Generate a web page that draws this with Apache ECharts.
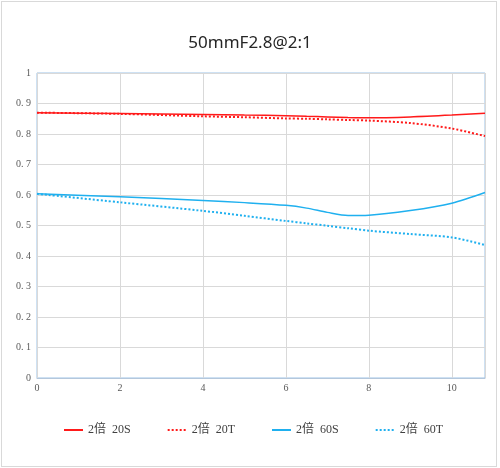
<!DOCTYPE html>
<html>
<head>
<meta charset="utf-8">
<script src="https://cdn.jsdelivr.net/npm/echarts@6/dist/echarts.min.js"></script>
<style>
  html, body { margin: 0; padding: 0; background: #fff; }
  #main { width: 500px; height: 468px; }
  .frame {
    position: absolute; left: 1px; top: 1px; width: 494px; height: 464px;
    border: 1px solid #d9d9d9; pointer-events: none;
  }
</style>
</head>
<body>
<div id="main"></div>
<div class="frame"></div>
<script>
// x positions shared by all curves
const xs = [0, 2, 4, 5, 6, 6.5, 7, 7.5, 8, 9, 10, 10.8]
const s20S = [0.870, 0.867, 0.864, 0.862, 0.860, 0.858, 0.856, 0.854, 0.853, 0.856, 0.862, 0.868]
const t20T = [0.870, 0.866, 0.858, 0.855, 0.851, 0.850, 0.848, 0.846, 0.844, 0.836, 0.818, 0.793]
const s60S = [0.604, 0.594, 0.582, 0.575, 0.566, 0.557, 0.543, 0.533, 0.534, 0.549, 0.573, 0.608]
const t60T = [0.604, 0.576, 0.548, 0.532, 0.515, 0.507, 0.499, 0.491, 0.483, 0.472, 0.461, 0.436]
const names = ['2倍  20S', '2倍  20T', '2倍  60S', '2倍  60T']

const red = '#ff1a1a'
const blue = '#1fb0ef'

function pairs(ys) {
  return xs.map((x, i) => [x, ys[i]])
}

function makeSeries(name, ys, color, dotted) {
  return {
    name: name,
    type: 'line',
    smooth: 0.3,
    symbol: 'none',
    lineStyle: {
      color: color,
      width: dotted ? 2 : 1.5,
      type: dotted ? [2, 2] : 'solid'
    },
    itemStyle: { color: color },
    data: pairs(ys)
  }
}

let myChart = echarts.init(document.getElementById('main'))

let option = {
  animation: false,
  title: {
    text: '50mmF2.8@2:1',
    left: 'center',
    top: 30,
    textStyle: {
      fontFamily: 'Noto Sans',
      fontSize: 17,
      fontWeight: 'normal',
      color: '#262626'
    }
  },
  legend: {
    left: 58,
    top: 419,
    itemWidth: 19,
    itemHeight: 10,
    itemGap: 36,
    itemStyle: { opacity: 0 },
    textStyle: { fontFamily: '"Liberation Serif", "Noto Sans CJK SC"', fontSize: 12, color: '#404040' },
    data: names
  },
  grid: {
    left: 37,
    right: 15,
    top: 73,
    bottom: 90,
    show: true,
    borderColor: '#9dc3e6',
    borderWidth: 1
  },
  xAxis: {
    type: 'value',
    min: 0,
    max: 10.8,
    interval: 2,
    axisLine: { show: true, lineStyle: { color: '#b4c7dc' } },
    axisTick: { show: false },
    splitLine: { show: true, lineStyle: { color: '#d9d9d9', width: 1 } },
    axisLabel: {
      fontFamily: 'Liberation Serif',
      fontSize: 10,
      color: '#595959',
      margin: 5,
      formatter: v => (v % 2 === 0 ? String(v) : '')
    }
  },
  yAxis: {
    type: 'value',
    min: 0,
    max: 1,
    interval: 0.1,
    axisLine: { show: true, lineStyle: { color: '#d9d9d9' } },
    axisTick: { show: false },
    splitLine: { show: true, lineStyle: { color: '#d9d9d9', width: 1 } },
    axisLabel: {
      fontFamily: 'Liberation Serif',
      fontSize: 10,
      color: '#595959',
      margin: 6,
      formatter: v => (v === 0 || v === 1 ? String(v) : v.toFixed(1).replace('.', '. '))
    }
  },
  series: [
    makeSeries(names[0], s20S, red, false),
    makeSeries(names[1], t20T, red, true),
    makeSeries(names[2], s60S, blue, false),
    makeSeries(names[3], t60T, blue, true)
  ]
}
myChart.setOption(option)
</script>
</body>
</html>
